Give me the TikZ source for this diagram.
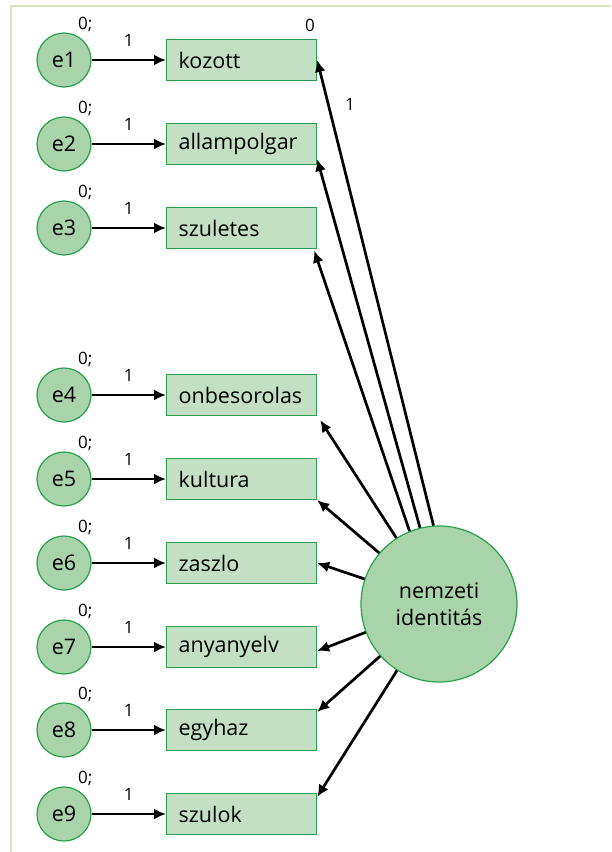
\documentclass[tikz,border=0pt]{standalone}
\usepackage{fontspec}
\setmainfont{Open Sans}
\usetikzlibrary{positioning,arrows.meta}
\definecolor{errfill}{RGB}{169,212,170}
\definecolor{obsfill}{RGB}{195,224,196}
\definecolor{edgegreen}{RGB}{40,160,75}
\definecolor{framegreen}{RGB}{214,228,188}

\begin{document}
\begin{tikzpicture}[x=1pt,y=-1pt,
    err/.style={circle,draw=edgegreen,fill=errfill,line width=1.2pt,
      minimum size=54pt,inner sep=0pt,font=\fontsize{21.5}{25}\selectfont},
    obs/.style={rectangle,draw=edgegreen,fill=obsfill,line width=1.2pt,
      minimum height=41pt,text width=126pt,inner xsep=12pt,inner ysep=0pt,
      align=left,anchor=west,font=\fontsize{21.5}{25}\selectfont},
    lat/.style={circle,draw=edgegreen,fill=errfill,line width=1.2pt,
      minimum size=156pt,inner sep=0pt,align=center,
      font=\fontsize{21.5}{27}\selectfont},
    lbl/.style={inner sep=0pt,font=\fontsize{17}{19}\selectfont},
    arr/.style={-{Latex[length=12pt,width=11pt]},line width=2.7pt}]
    \useasboundingbox (0,0) rectangle (611,852);
    \draw[framegreen,line width=2.5pt] (611,6) -- (11,6) -- (11,852);

    % indicators and their error terms
    \foreach \i/\y/\t in {1/60/kozott,2/144/allampolgar,3/228/szuletes,
        4/395/onbesorolas,5/479/kultura,6/563/zaszlo,7/647/anyanyelv,
        8/730/egyhaz,9/814/szulok} {
      \node[err] (e\i) at (64,\y) {e\i};
      \node[obs] (\t) at (166,\y) {\t};
      \node[lbl,anchor=base west] (v\i) at (78,\y-31) {0;};
      \draw[arr] (e\i) -- node[lbl,above=12pt] (w\i) {1} (\t);
    }
    \node[lbl,anchor=base] (c0) at (310,31) {0};

    % latent factor
    \node[lat] (nid) at (439,604) {nemzeti\\identitás};

    \draw[arr] (nid.94) -- (kozott.east);
    \node[lbl] (c1) at (350,104) {1};
    \draw[arr] (nid.104) -- ([yshift=6pt]allampolgar.south east);
    \draw[arr] (nid.112) -- ([xshift=-3pt,yshift=-1.5pt]szuletes.south east);
    \draw[arr] (nid) -- ([xshift=3pt,yshift=-4pt]onbesorolas.south east);
    \draw[arr] (nid) -- (kultura.south east);
    \draw[arr] (nid) -- (zaszlo.east);
    \draw[arr] (nid) -- ([yshift=-4pt]anyanyelv.east);
    \draw[arr] (nid) -- ([yshift=-3pt]egyhaz.north east);
    \draw[arr] (nid) -- ([yshift=-4pt]szulok.north east);
\end{tikzpicture}
\end{document}
